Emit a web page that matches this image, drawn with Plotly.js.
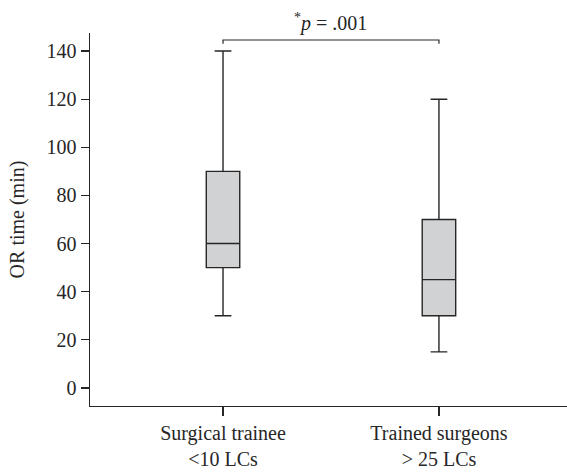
<!DOCTYPE html>
<html>
<head>
<meta charset="utf-8">
<script src="https://cdn.plot.ly/plotly-3.0.1.min.js"></script>
<style>html,body{margin:0;padding:0;background:#fff;}#chart{width:567px;height:472px;}</style>
</head>
<body>
<div id="chart"></div>
<script>
var groups = ["Surgical trainee<br><10 LCs", "Trained surgeons<br>> 25 LCs"];
var groupPos = [0, 1];
var lowerFence = [30, 15];
var q1 = [50, 30];
var median = [60, 45];
var q3 = [90, 70];
var upperFence = [140, 120];
var yTicks = [0, 20, 40, 60, 80, 100, 120, 140];
var pText = "<sup>*</sup><i>p</i> = .001";
var bracketY = 144.6;
var bracketEndY = 143.0;

var FONT = "Liberation Serif, Times New Roman, serif";
var INK = "#262626";
var FS = 20;

var trace = {
  type: "box",
  x: groupPos,
  lowerfence: lowerFence,
  q1: q1,
  median: median,
  q3: q3,
  upperfence: upperFence,
  width: 0.155,
  whiskerwidth: 0.5,
  fillcolor: "#d1d2d4",
  line: {color: INK, width: 1.4},
  hoverinfo: "skip",
  showlegend: false
};

var layout = {
  width: 567,
  height: 472,
  margin: {l: 90, r: 0, t: 33, b: 66, pad: 0},
  paper_bgcolor: "#ffffff",
  plot_bgcolor: "#ffffff",
  font: {family: FONT, size: FS, color: INK},
  showlegend: false,
  xaxis: {
    range: [-0.616, 1.593],
    tickvals: groupPos,
    ticktext: groups,
    ticks: "outside",
    ticklen: 9,
    tickwidth: 1.2,
    tickcolor: INK,
    showline: true,
    linecolor: INK,
    linewidth: 1.4,
    showgrid: false,
    zeroline: false,
    tickfont: {family: FONT, size: FS, color: INK}
  },
  yaxis: {
    range: [-7.5, 147.5],
    tickvals: yTicks,
    ticktext: yTicks.map(String),
    ticks: "outside",
    ticklen: 8,
    tickwidth: 1.2,
    tickcolor: INK,
    showline: true,
    linecolor: INK,
    linewidth: 1.4,
    showgrid: false,
    zeroline: false,
    tickfont: {family: FONT, size: FS, color: INK},
    title: {text: "OR time (min)", font: {family: FONT, size: FS, color: INK}, standoff: 16}
  },
  shapes: [
    {type: "path", xref: "x", yref: "y",
     path: "M " + groupPos[0] + "," + bracketEndY + " L " + groupPos[0] + "," + bracketY +
           " L " + groupPos[1] + "," + bracketY + " L " + groupPos[1] + "," + bracketEndY,
     line: {color: INK, width: 1.2}}
  ],
  annotations: [
    {x: (groupPos[0] + groupPos[1]) / 2, y: bracketY, xref: "x", yref: "y",
     text: pText, showarrow: false, yanchor: "bottom", yshift: 3,
     font: {family: FONT, size: FS, color: INK}}
  ]
};

Plotly.newPlot("chart", [trace], layout, {displayModeBar: false, staticPlot: true});
</script>
</body>
</html>
